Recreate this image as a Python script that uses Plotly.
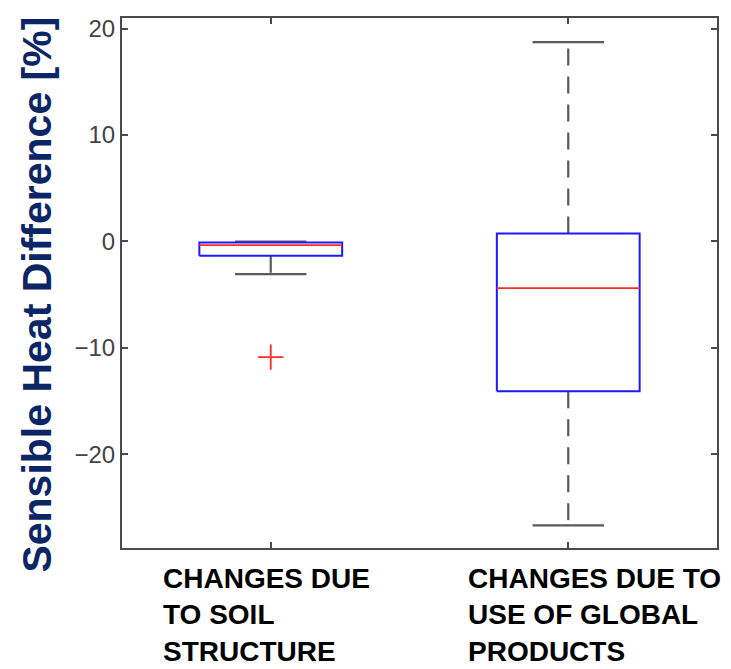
import plotly.graph_objects as go

# ---- data ----
categories = ["CHANGES DUE<br>TO SOIL<br>STRUCTURE",
              "CHANGES DUE TO<br>USE OF GLOBAL<br>PRODUCTS"]
lower_whisker = [-3.06, -26.68]
q1 = [-1.34, -14.06]
median = [-0.35, -4.38]
q3 = [-0.09, 0.75]
upper_whisker = [0.0, 18.74]
outliers = [[-10.87], []]
y_tick_vals = [-20, -10, 0, 10, 20]

positions = [1, 2]
box_half = 0.24
cap_half = 0.12

FONT = "Liberation Sans, Arial, sans-serif"
BOX_C = "#1a1aff"
MED_C = "#ff2a2a"
WHISK_C = "#5a5a5a"
AX_C = "#4a4a4a"

fig = go.Figure()

for i, p in enumerate(positions):
    # whiskers
    fig.add_trace(go.Scatter(x=[p, p], y=[q3[i], upper_whisker[i]], mode="lines",
                             line=dict(color=WHISK_C, width=2.2, dash="17px,11px"),
                             showlegend=False, hoverinfo="skip"))
    fig.add_trace(go.Scatter(x=[p, p], y=[q1[i], lower_whisker[i]], mode="lines",
                             line=dict(color=WHISK_C, width=2.2, dash="17px,11px"),
                             showlegend=False, hoverinfo="skip"))
    # caps
    for v in (upper_whisker[i], lower_whisker[i]):
        fig.add_trace(go.Scatter(x=[p - cap_half, p + cap_half], y=[v, v], mode="lines",
                                 line=dict(color=WHISK_C, width=2.2),
                                 showlegend=False, hoverinfo="skip"))
    # box
    fig.add_trace(go.Scatter(
        x=[p - box_half, p + box_half, p + box_half, p - box_half, p - box_half],
        y=[q1[i], q1[i], q3[i], q3[i], q1[i]], mode="lines",
        line=dict(color=BOX_C, width=2), showlegend=False, hoverinfo="skip"))
    # median
    fig.add_trace(go.Scatter(x=[p - box_half, p + box_half], y=[median[i], median[i]],
                             mode="lines", line=dict(color=MED_C, width=1.8),
                             showlegend=False, hoverinfo="skip"))
    # outliers
    if outliers[i]:
        fig.add_trace(go.Scatter(x=[p] * len(outliers[i]), y=outliers[i], mode="markers",
                                 marker=dict(symbol="cross-thin", size=18,
                                             line=dict(color=MED_C, width=1.8)),
                                 showlegend=False, hoverinfo="skip"))

# category labels (left aligned blocks)
label_x = [0.066, 0.578]
for cat, lx in zip(categories, label_x):
    fig.add_annotation(text=cat, xref="paper", yref="paper", x=lx, y=-0.025,
                       xanchor="left", yanchor="top", align="left", showarrow=False,
                       font=dict(family=FONT, size=28, color="black", weight="bold"))

# y title
fig.add_annotation(text="Sensible Heat Difference [%]", xref="paper", yref="paper",
                   x=-0.143, y=0.478, xanchor="center", yanchor="middle",
                   textangle=-90, showarrow=False,
                   font=dict(family=FONT, size=41, color="#0b2665", weight="bold"))

fig.update_xaxes(range=[0.5, 2.5], tickvals=positions, showticklabels=False,
                 ticks="inside", ticklen=6, tickwidth=1.5, tickcolor=AX_C,
                 showline=True, linecolor=AX_C, linewidth=2, mirror="ticks",
                 showgrid=False, zeroline=False)
fig.update_yaxes(range=[-28.8, 21.0], tickvals=y_tick_vals,
                 ticks="inside", ticklen=6, tickwidth=1.5, tickcolor=AX_C,
                 showline=True, linecolor=AX_C, linewidth=2, mirror="ticks",
                 showgrid=False, zeroline=False, ticklabelstandoff=0,
                 tickfont=dict(family=FONT, size=24, color="#444444"))

# page body adds an 8px offset, so the figure is sized to fit the 731x669 window
fig.update_layout(width=723, height=661,
                  margin=dict(l=114, r=14, t=7, b=121),
                  paper_bgcolor="white", plot_bgcolor="white",
                  showlegend=False)

fig.write_html("out.html")
